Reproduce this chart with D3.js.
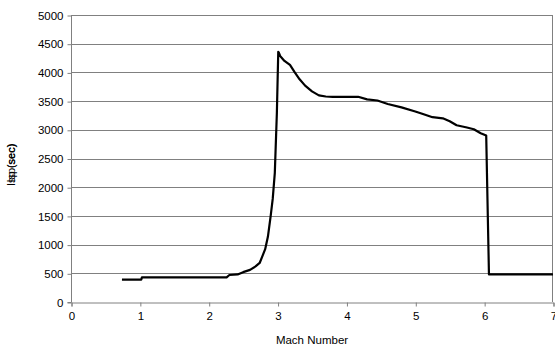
<!DOCTYPE html>
<html><head><meta charset="utf-8">
<script src="https://cdn.jsdelivr.net/npm/d3@7"></script>
<style>body{margin:0;background:#fff}svg{display:block}text{font-family:"Liberation Sans",Arial,sans-serif}</style>
</head><body>
<script>
const mach = [0.74,1.02,1.03,1.5,2.0,2.26,2.3,2.42,2.5,2.6,2.68,2.74,2.78,2.82,2.86,2.9,2.93,2.96,2.99,3.01,3.02,3.04,3.1,3.18,3.25,3.32,3.4,3.5,3.6,3.7,3.8,4.0,4.17,4.3,4.45,4.6,4.8,5.0,5.1,5.25,5.4,5.5,5.6,5.75,5.85,5.95,6.03,6.07,6.5,7.0];
const isp  = [390,390,430,430,430,430,470,480,520,560,620,680,800,920,1140,1500,1800,2250,3300,4360,4340,4280,4200,4130,4000,3880,3770,3670,3600,3580,3575,3575,3575,3530,3510,3450,3390,3320,3280,3220,3200,3150,3080,3040,3010,2940,2900,480,480,480];
const xTicks = [0,1,2,3,4,5,6,7];
const yTicks = [0,500,1000,1500,2000,2500,3000,3500,4000,4500,5000];

const W=555,H=351, L=71, R=553, T=15, B=302;
const svg=d3.select("body").append("svg").attr("width",W).attr("height",H);
const x=d3.scaleLinear().domain([0,7]).range([L,R]);
const y=d3.scaleLinear().domain([0,5000]).range([B,T]);

svg.append("g").selectAll("line").data(yTicks.slice(1)).join("line")
  .attr("x1",L).attr("x2",R).attr("y1",d=>Math.round(y(d))+0.5).attr("y2",d=>Math.round(y(d))+0.5)
  .attr("stroke","#808080").attr("stroke-width",1);
svg.append("line").attr("x1",Math.round(R)-0.5).attr("x2",Math.round(R)-0.5).attr("y1",T).attr("y2",B).attr("stroke","#808080");

const ya=svg.append("g").attr("transform",`translate(${L+0.5},0.5)`).call(d3.axisLeft(y).tickValues(yTicks).tickSize(4).tickPadding(4).tickFormat(d3.format("d")));
const xa=svg.append("g").attr("transform",`translate(0.5,${Math.round(B)+0.5})`).call(d3.axisBottom(x).tickValues(xTicks).tickSize(4).tickPadding(5).tickFormat(d3.format("d")));
[ya,xa].forEach(a=>{a.selectAll("path,line").attr("stroke","#808080");a.selectAll("text").attr("font-size",11.5).attr("fill","#000").style("font-family","'Liberation Sans',Arial,sans-serif");});
ya.select(".domain").attr("d",`M-4,${B}H0V${T}`);

svg.append("path").datum(mach.map((m,i)=>[m,isp[i]]))
  .attr("fill","none").attr("stroke","#000").attr("stroke-width",2.2).attr("stroke-linejoin","round")
  .attr("d",d3.line().x(d=>x(d[0])).y(d=>y(d[1])));

svg.append("text").attr("x",(L+R)/2).attr("y",344).attr("text-anchor","middle").attr("font-size",11.5).text("Mach Number");
svg.append("text").attr("transform","translate(15,165) rotate(-90)").attr("text-anchor","middle").attr("font-size",11).text("Isp (sec)");
svg.append("text").attr("transform","translate(15,163) rotate(-90)").attr("text-anchor","middle").attr("font-size",11).text("Isp(sec)");
</script>
</body></html>
